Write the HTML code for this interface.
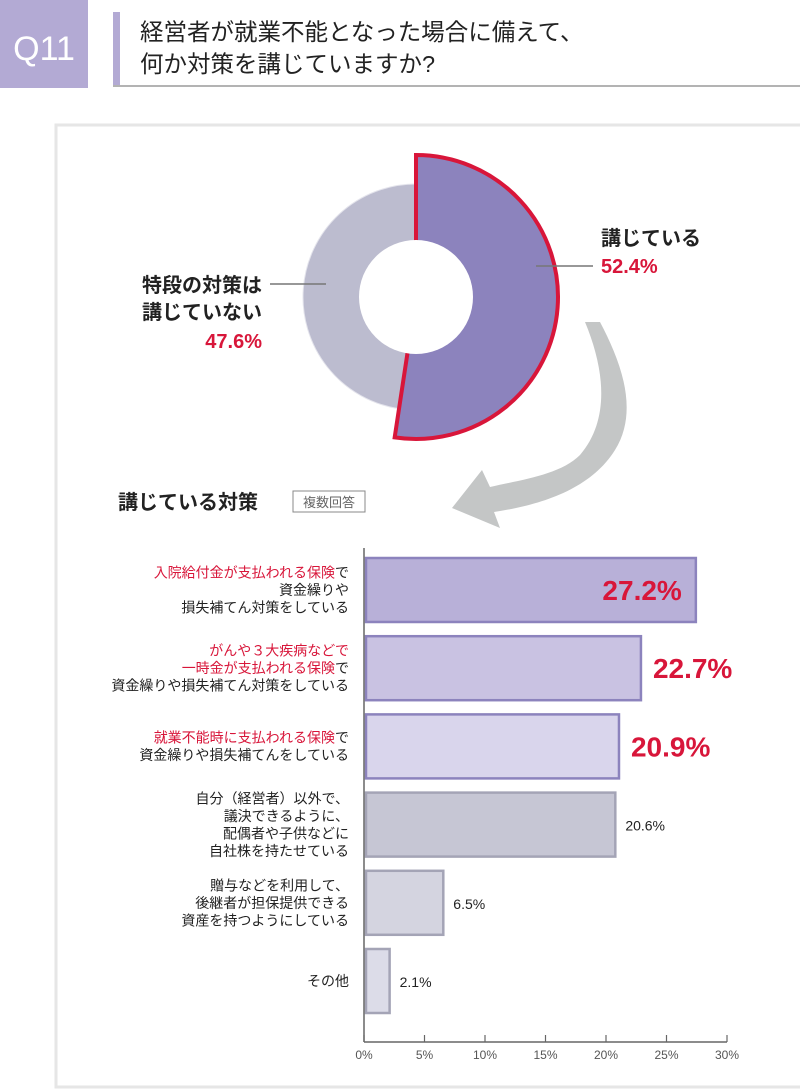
<!DOCTYPE html>
<html><head><meta charset="utf-8">
<style>
body{margin:0;background:#fff;font-family:"Liberation Sans","Noto Sans CJK JP",sans-serif;}
#wrap{position:relative;width:800px;height:1092px;overflow:hidden;}
</style></head>
<body>
<div id="wrap">
<svg id="chart" width="800" height="1092" viewBox="0 0 800 1092" font-family="Liberation Sans, Noto Sans CJK JP, sans-serif">
  <rect x="0" y="0" width="88" height="88" fill="#b3aad4"/>
  <text x="44" y="60" text-anchor="middle" font-size="34" fill="#fff">Q11</text>
  <rect x="113" y="12" width="7" height="73" fill="#b3aad4"/>
  <line x1="113" y1="86" x2="800" y2="86" stroke="#9a9a9a" stroke-width="1.5"/>
  <text x="140" y="40" font-size="23.5" fill="#222">経営者が就業不能となった場合に備えて、</text>
  <text x="140" y="72" font-size="23.5" fill="#222">何か対策を講じていますか?</text>
  <rect x="56" y="125" width="750" height="962" fill="none" stroke="#e6e6e6" stroke-width="3"/>
  <g id="donut"></g>
  <path d="M585 322 C605 370 610 420 580 455 C560 475 520 480 490 487 L482 470 L452 508 L500 528 L494 512 C540 505 590 490 615 450 C640 410 620 360 600 322 Z" fill="#c4c6c6"/>
  <text x="118" y="509" font-size="20" font-weight="bold" fill="#222">講じている対策</text>
  <rect x="293" y="491" width="72" height="21" fill="#fff" stroke="#888" stroke-width="1"/>
  <text x="329" y="507" font-size="13" fill="#666" text-anchor="middle">複数回答</text>
  <g id="bars"></g>
</svg>
</div>
<script>
const pieLabels = ["講じている", "特段の対策は講じていない"];
const pieValues = [52.4, 47.6];
const barCategories = ["入院給付金", "がん・3大疾病", "就業不能", "自社株", "贈与", "その他"];
const barValues = [27.2, 22.7, 20.9, 20.6, 6.5, 2.1];
const barValueLabels = ["27.2%", "22.7%", "20.9%", "20.6%", "6.5%", "2.1%"];
const xTicks = [0, 5, 10, 15, 20, 25, 30];
const xTickLabels = ["0%", "5%", "10%", "15%", "20%", "25%", "30%"];

const NS = "http://www.w3.org/2000/svg";
function mk(tag, attrs, parent){const e=document.createElementNS(NS,tag);for(const k in attrs)e.setAttribute(k,attrs[k]);parent.appendChild(e);return e;}

// donut
const dg = document.getElementById('donut');
const cx=416, cy=297;
function pt(r,frac){const a=frac*2*Math.PI;return [cx+r*Math.sin(a), cy-r*Math.cos(a)];}
function arc(ro,ri,f0,f1){
  const large=(f1-f0)>0.5?1:0;
  const [x0,y0]=pt(ro,f0),[x1,y1]=pt(ro,f1),[x2,y2]=pt(ri,f1),[x3,y3]=pt(ri,f0);
  return `M${x0} ${y0} A${ro} ${ro} 0 ${large} 1 ${x1} ${y1} L${x2} ${y2} A${ri} ${ri} 0 ${large} 0 ${x3} ${y3} Z`;
}
const total = pieValues[0]+pieValues[1];
const f = pieValues[0]/total;
const s2 = mk('path',{d:arc(113,50,f,1),fill:'#bcbccf',stroke:'#e4e4ec','stroke-width':1},dg);


const s1 = mk('path',{d:arc(142,50,0,f),fill:'#8c83bd',stroke:'#d8163a','stroke-width':4,'stroke-linejoin':'miter'},dg);


const hole = mk('circle',{cx:cx,cy:cy,r:57,fill:'#fff'},dg);


let l = mk('line',{x1:536,y1:266,x2:593,y2:266,stroke:'#777','stroke-width':1.5},dg);


l = mk('line',{x1:270,y1:284,x2:326,y2:284,stroke:'#777','stroke-width':1.5},dg);


let t = mk('text',{x:601,y:245,'font-size':20,'font-weight':'bold',fill:'#222'},dg); t.textContent=pieLabels[0];


t = mk('text',{x:601,y:273,'font-size':20,'font-weight':'bold',fill:'#d8163a'},dg); t.textContent=pieValues[0].toFixed(1)+'%';


t = mk('text',{x:262,y:292,'font-size':20,'font-weight':'bold',fill:'#222','text-anchor':'end'},dg); t.textContent='特段の対策は';


t = mk('text',{x:262,y:319,'font-size':20,'font-weight':'bold',fill:'#222','text-anchor':'end'},dg); t.textContent='講じていない';


t = mk('text',{x:262,y:348,'font-size':20,'font-weight':'bold',fill:'#d8163a','text-anchor':'end'},dg); t.textContent=pieValues[1].toFixed(1)+'%';



// bars
const bg = document.getElementById('bars');
const x0=364, pxPer=12.2, top0=558, step=78.2, bh=64, axisY=1042;
const xs = v => x0 + v*pxPer;
const fills = ['#b8b0d8','#c9c2e2','#d9d5ec','#c6c6d4','#d4d4e0','#dcdce8'];
const strokes = ['#8c83bd','#8c83bd','#8c83bd','#a4a4b6','#a4a4b6','#a4a4b6'];
const labelLines = [
  [[['入院給付金が支払われる保険','#d8163a'],['で','#222']],[['資金繰りや','#222']],[['損失補てん対策をしている','#222']]],
  [[['がんや３大疾病などで','#d8163a']],[['一時金が支払われる保険','#d8163a'],['で','#222']],[['資金繰りや損失補てん対策をしている','#222']]],
  [[['就業不能時に支払われる保険','#d8163a'],['で','#222']],[['資金繰りや損失補てんをしている','#222']]],
  [[['自分（経営者）以外で、','#222']],[['議決できるように、','#222']],[['配偶者や子供などに','#222']],[['自社株を持たせている','#222']]],
  [[['贈与などを利用して、','#222']],[['後継者が担保提供できる','#222']],[['資産を持つようにしている','#222']]],
  [[['その他','#222']]]
];
barValues.forEach((v,i)=>{
  const y = top0 + i*step;
  const r = mk('rect',{x:x0+2,y:y,width:Math.max(1,xs(v)-x0-2),height:bh,fill:fills[i],stroke:strokes[i],'stroke-width':2.5},bg);
  
  
  let vt;
  if(i===0){
    vt = mk('text',{x:xs(v)-14,y:y+bh/2+10,'font-size':28,'font-weight':'bold',fill:'#d8163a','text-anchor':'end'},bg);
  } else if(i<3){
    vt = mk('text',{x:xs(v)+12,y:y+bh/2+10,'font-size':28,'font-weight':'bold',fill:'#d8163a'},bg);
  } else {
    vt = mk('text',{x:xs(v)+10,y:y+bh/2+6,'font-size':14,fill:'#222'},bg);
  }
  vt.textContent = barValueLabels[i];
  
  
  const lines = labelLines[i], lh=17.5;
  const startY = y + bh/2 - (lines.length-1)*lh/2 + 5;
  lines.forEach((ln,j)=>{
    const tt = mk('text',{x:349,y:startY+j*lh,'font-size':14,'text-anchor':'end'},bg);
    
    
    ln.forEach(([s,c])=>{const sp=mk('tspan',{fill:c},tt);sp.textContent=s;});
  });
});
let ax = mk('line',{x1:x0,y1:548,x2:x0,y2:axisY,stroke:'#666','stroke-width':1.5},bg);


ax = mk('line',{x1:x0,y1:axisY,x2:727,y2:axisY,stroke:'#666','stroke-width':1.5},bg);


xTicks.forEach((v,i)=>{
  const tx = x0 + v*(727-x0)/30;
  const tk = mk('line',{x1:tx,y1:axisY-7,x2:tx,y2:axisY,stroke:'#666','stroke-width':1.2},bg);
  
  
  const tl = mk('text',{x:tx,y:axisY+17,'font-size':12,fill:'#555','text-anchor':'middle'},bg);
  tl.textContent = xTickLabels[i];
  
  
});
</script>
</body></html>
